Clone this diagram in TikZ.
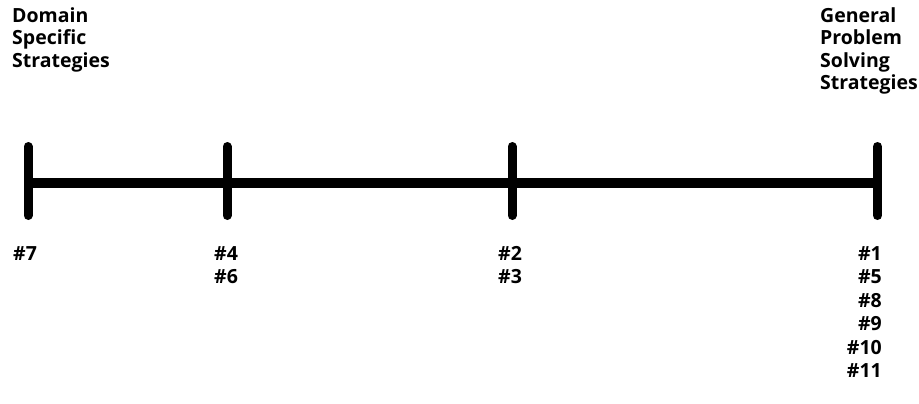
\documentclass[tikz,border=0pt]{standalone}
\usepackage{fontspec}
\setmainfont{Open Sans}
\begin{document}
\begin{tikzpicture}[x=1pt,y=-1pt,
  bar/.style={line width=10pt},
  tick/.style={line width=9pt,line cap=round},
  head/.style={font=\bfseries\fontsize{19.5}{22.5}\selectfont,inner sep=0pt,align=left},
  num/.style={font=\bfseries\fontsize{19.5}{23.5}\selectfont,inner sep=0pt}]
\useasboundingbox (0,0) rectangle (919,404);
\coordinate (p0) at (28,182.5);
\coordinate (p1) at (227,182.5);
\coordinate (p2) at (512,182.5);
\coordinate (p3) at (877.5,182.5);
\draw[bar] (p0) -- (p3);
\foreach \p in {p0,p1,p2,p3} \draw[tick] ([yshift=-33pt]\p) -- ([yshift=36pt]\p);
\node[head,anchor=north west] (ds) at (12,7) {Domain\\Specific\\Strategies};
\node[head,anchor=north west] (gp) at (820,7) {General\\Problem\\Solving\\Strategies};
\node[num,anchor=north west,align=left] (n7) at (13,246) {\#7};
\node[num,anchor=north west,align=left] (n4) at (214,246) {\#4\\\#6};
\node[num,anchor=north west,align=left] (n2) at (498,246) {\#2\\\#3};
\node[num,anchor=north east,align=right] (n1) at (882,246) {\#1\\\#5\\\#8\\\#9\\\#10\\\#11};
\end{tikzpicture}
\end{document}
